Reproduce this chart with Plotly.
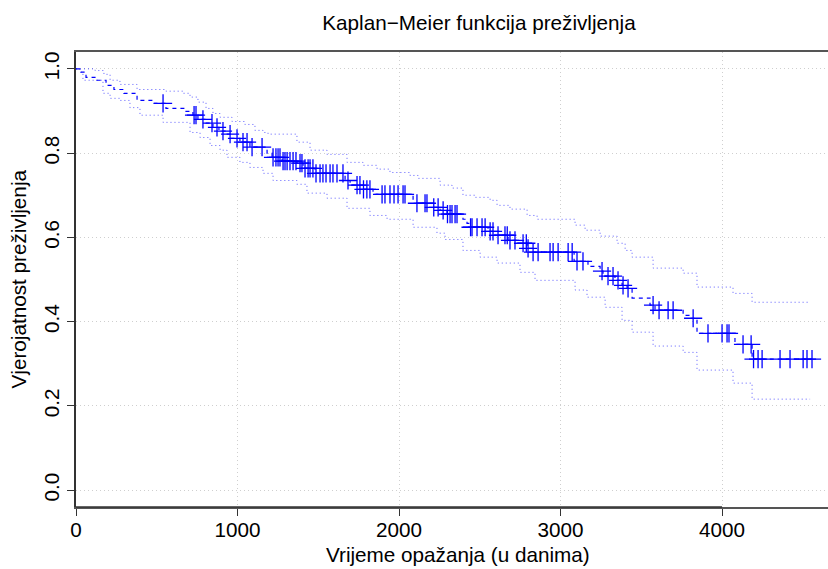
import numpy as np
import plotly.graph_objects as go

# Kaplan-Meier estimate: day of each drop and the survival just after it
event_days = [31, 62, 130, 186, 235, 297, 378, 477, 557, 681, 724, 755, 805, 848,
              885, 929, 960, 1015, 1077, 1183, 1214, 1276, 1368, 1406, 1480, 1666,
              1697, 1777, 1839, 2087, 2211, 2254, 2297, 2396, 2421, 2440, 2551, 2594,
              2675, 2737, 2793, 2824, 3084, 3170, 3245, 3263, 3337, 3381, 3412, 3443,
              3554, 3585, 3759, 3802, 3845, 4080, 4186]
surv_after = [0.992, 0.980, 0.973, 0.961, 0.951, 0.942, 0.925, 0.918, 0.906, 0.899,
              0.890, 0.880, 0.871, 0.861, 0.852, 0.845, 0.835, 0.826, 0.814, 0.800,
              0.790, 0.781, 0.776, 0.764, 0.752, 0.735, 0.724, 0.714, 0.702, 0.681,
              0.671, 0.664, 0.655, 0.643, 0.633, 0.624, 0.614, 0.605, 0.593, 0.586,
              0.574, 0.565, 0.543, 0.531, 0.520, 0.508, 0.498, 0.486, 0.479, 0.456,
              0.439, 0.427, 0.415, 0.408, 0.372, 0.346, 0.311]
last_day = 4557

# censored observations (days)
censor_days = [539, 731, 743, 786, 842, 873, 910, 954, 997, 1034, 1059, 1090, 1152,
               1220, 1238, 1251, 1263, 1282, 1294, 1307, 1325, 1344, 1362, 1387, 1399,
               1418, 1437, 1449, 1467, 1486, 1511, 1529, 1548, 1573, 1591, 1616, 1653,
               1684, 1740, 1758, 1780, 1801, 1820, 1895, 1913, 1944, 1969, 1994, 2025,
               2037, 2111, 2161, 2173, 2215, 2242, 2273, 2300, 2316, 2328, 2347, 2359,
               2443, 2452, 2483, 2514, 2533, 2564, 2582, 2613, 2656, 2670, 2687, 2718,
               2768, 2788, 2799, 2830, 2861, 2935, 2954, 2985, 3047, 3072, 3102, 3139,
               3257, 3294, 3325, 3356, 3387, 3418, 3573, 3610, 3666, 3697, 3821, 3913,
               4000, 4031, 4043, 4130, 4180, 4195, 4223, 4248, 4359, 4421, 4502, 4526,
               4557]

# 95% confidence band
ci_upper_days = [0, 118, 173, 211, 272, 378, 557, 663, 706, 755, 805, 848, 892, 966,
                 1046, 1108, 1158, 1189, 1368, 1449, 1554, 1678, 1777, 1864, 1944, 2068,
                 2118, 2254, 2328, 2396, 2471, 2564, 2607, 2687, 2793, 2855, 3090, 3152,
                 3245, 3350, 3400, 3443, 3573, 3759, 3845, 4068, 4186]
ci_upper = [1.0, 0.996, 0.987, 0.973, 0.963, 0.951, 0.947, 0.942, 0.933, 0.921, 0.906,
            0.894, 0.885, 0.875, 0.868, 0.854, 0.849, 0.845, 0.826, 0.807, 0.797, 0.778,
            0.771, 0.762, 0.754, 0.747, 0.740, 0.724, 0.717, 0.700, 0.695, 0.688, 0.676,
            0.667, 0.652, 0.643, 0.629, 0.617, 0.603, 0.586, 0.569, 0.553, 0.527, 0.515,
            0.482, 0.467, 0.446]
ci_lower_days = [0, 25, 43, 167, 211, 272, 334, 396, 539, 706, 768, 830, 892, 935, 1015,
                 1077, 1158, 1220, 1368, 1430, 1554, 1678, 1820, 1926, 2087, 2235, 2285,
                 2396, 2502, 2607, 2749, 2842, 3090, 3164, 3276, 3381, 3443, 3573, 3759,
                 3845, 4068, 4186]
ci_lower = [1.0, 0.992, 0.973, 0.942, 0.930, 0.925, 0.908, 0.890, 0.873, 0.849, 0.837,
            0.818, 0.807, 0.790, 0.778, 0.766, 0.752, 0.735, 0.726, 0.705, 0.693, 0.669,
            0.652, 0.643, 0.624, 0.610, 0.595, 0.569, 0.553, 0.539, 0.517, 0.498, 0.475,
            0.458, 0.434, 0.403, 0.375, 0.342, 0.327, 0.285, 0.254, 0.216]
ci_end_day = 4545

x_ticks = [0, 1000, 2000, 3000, 4000]
y_ticks = [0.0, 0.2, 0.4, 0.6, 0.8, 1.0]

FONT = "Liberation Sans, Arial, Helvetica, sans-serif"
FS = 20.7
BLUE = "#0000ff"

# survival level in force at each censoring day
steps_x = np.array([0] + event_days)
steps_y = np.array([1.0] + surv_after)
idx = np.searchsorted(steps_x, np.array(censor_days), side="right") - 1
censor_surv = steps_y[idx]

fig = go.Figure()

fig.add_trace(go.Scatter(
    x=ci_upper_days + [ci_end_day], y=ci_upper + [ci_upper[-1]],
    mode="lines", line=dict(shape="hv", color="rgba(40,40,255,0.75)", width=1, dash="1px,3px"),
    hoverinfo="skip"))
fig.add_trace(go.Scatter(
    x=ci_lower_days + [ci_end_day], y=ci_lower + [ci_lower[-1]],
    mode="lines", line=dict(shape="hv", color="rgba(40,40,255,0.75)", width=1, dash="1px,3px"),
    hoverinfo="skip"))
fig.add_trace(go.Scatter(
    x=list(steps_x) + [last_day], y=list(steps_y) + [surv_after[-1]],
    mode="lines", line=dict(shape="hv", color=BLUE, width=1.2, dash="4px,4px")))
fig.add_trace(go.Scatter(
    x=censor_days, y=censor_surv, mode="markers",
    marker=dict(symbol="cross-thin", size=13, line=dict(width=1.3, color=BLUE))))

# darker axis segment spanning the labelled ticks, over the lighter frame
fig.add_shape(type="line", xref="x", yref="paper", x0=x_ticks[0], x1=x_ticks[-1],
              y0=0, y1=0, line=dict(color="#333333", width=1.6))

fig.update_layout(
    width=828, height=569,
    margin=dict(l=76, r=0, t=52, b=62),
    paper_bgcolor="white", plot_bgcolor="white",
    showlegend=False,
    font=dict(family=FONT, size=FS, color="black"),
    title=dict(text="Kaplan\u2212Meier funkcija preživljenja", x=479 / 828, xref="container",
               xanchor="center", y=1 - 23 / 569, yref="container", yanchor="middle",
               font=dict(family=FONT, size=FS, color="black")),
    xaxis=dict(range=[0, 4656], tickvals=x_ticks, ticktext=[str(v) for v in x_ticks],
               showgrid=True, gridcolor="#cfcfcf", griddash="1px,3px", gridwidth=1,
               zeroline=False, showline=True, linecolor="#555555", linewidth=1.6,
               mirror=True, ticks="outside", ticklen=7, tickcolor="#333333",
               ticklabelstandoff=-4,
               tickfont=dict(family=FONT, size=FS)),
    yaxis=dict(range=[-0.04, 1.04], tickvals=y_ticks, ticktext=[f"{v:.1f}" for v in y_ticks],
               tickangle=-90,
               showgrid=True, gridcolor="#cfcfcf", griddash="1px,3px", gridwidth=1,
               zeroline=False, showline=True, linecolor="#333333", linewidth=1.6,
               ticks="outside", ticklen=7, tickcolor="#333333",
               tickfont=dict(family=FONT, size=FS)),
    annotations=[
        dict(text="Vrijeme opažanja (u danima)", xref="paper", yref="paper",
             x=(458 - 76) / 752, y=-(554 - 507) / 455, xanchor="center", yanchor="middle",
             showarrow=False, font=dict(family=FONT, size=FS)),
        dict(text="Vjerojatnost preživljenja", xref="paper", yref="paper",
             x=-(76 - 18) / 752, y=0.5, xanchor="center", yanchor="middle", textangle=-90,
             showarrow=False, font=dict(family=FONT, size=FS)),
    ],
)

fig.write_html("out.html")
